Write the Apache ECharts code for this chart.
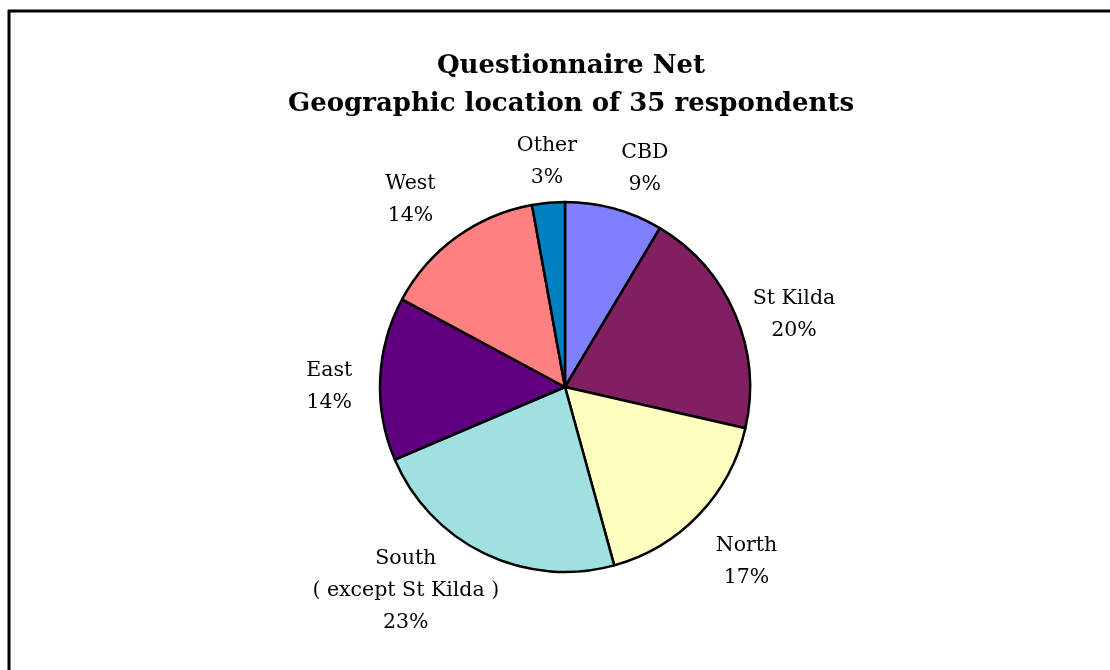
<!DOCTYPE html>
<html>
<head>
<meta charset="utf-8">
<title>Questionnaire Net</title>
<script src="https://cdn.jsdelivr.net/npm/echarts@6/dist/echarts.min.js"></script>
<style>
  html, body { margin: 0; padding: 0; background: #ffffff; }
  #chart { width: 1110px; height: 670px; }
</style>
</head>
<body>
<div id="chart"></div>
<script>
// Respondents by geographic location (counts out of 35)
const categories = ['CBD', 'St Kilda', 'North', 'South\n( except St Kilda )', 'East', 'West', 'Other'];
const counts = [3, 7, 6, 8, 5, 5, 1];
const colors = ['#8080FF', '#802060', '#FFFFC0', '#A0E0E0', '#600080', '#FF8080', '#0080C0'];

const titleLines = ['Questionnaire Net', 'Geographic location of 35 respondents'];

const total = counts.reduce((a, b) => a + b, 0);
const pieCenter = [565, 387];
const pieRadius = 185;
const labelGap = 18;
// hand-tuned label nudges (px), in slice order
const labelNudge = [[17, 9], [1, 25], [4, 5], [-48, -27], [-10, 10], [-12, 9], [3, 9]];

// mid angle of each slice, clockwise from 12 o'clock
const midAngles = [];
let acc = 0;
counts.forEach(v => {
  midAngles.push((acc + v / 2) / total * 2 * Math.PI);
  acc += v;
});

const chart = echarts.init(document.getElementById('chart'), null, { renderer: 'canvas' });

chart.setOption({
  backgroundColor: '#ffffff',
  animation: false,
  title: {
    text: titleLines.join('\n'),
    left: 566,
    textAlign: 'center',
    top: 42,
    textStyle: {
      fontFamily: 'DejaVu Serif',
      fontWeight: 'bold',
      fontSize: 26,
      lineHeight: 38,
      color: '#000000'
    }
  },
  graphic: [
    { type: 'line', shape: { x1: 8, y1: 11, x2: 1110, y2: 11 }, style: { stroke: '#000', lineWidth: 3 } },
    { type: 'line', shape: { x1: 9, y1: 10, x2: 9, y2: 670 }, style: { stroke: '#000', lineWidth: 3 } }
  ],
  series: [{
    type: 'pie',
    center: pieCenter,
    radius: pieRadius,
    startAngle: 90,
    clockwise: true,
    avoidLabelOverlap: false,
    data: categories.map((name, i) => ({
      name: name,
      value: counts[i],
      itemStyle: { color: colors[i] }
    })),
    itemStyle: { borderColor: '#000000', borderWidth: 2.5 },
    label: {
      show: true,
      position: 'outside',
      fontFamily: 'DejaVu Serif',
      fontSize: 20.5,
      lineHeight: 32,
      color: '#000000',
      align: 'center',
      formatter: p => p.name + '\n' + Math.round(p.value / total * 100) + '%'
    },
    labelLine: { show: false },
    // keep each label box just clear of the rim, along its slice's mid angle
    labelLayout: params => {
      const i = params.dataIndex;
      const a = midAngles[i];
      const sx = Math.sin(a), sy = -Math.cos(a);
      const w = params.labelRect.width, h = params.labelRect.height;
      const tx = Math.abs(sx) > 1e-6 ? (w / 2) / Math.abs(sx) : Infinity;
      const ty = Math.abs(sy) > 1e-6 ? (h / 2) / Math.abs(sy) : Infinity;
      const d = pieRadius + labelGap + Math.min(tx, ty);
      return {
        x: pieCenter[0] + sx * d + labelNudge[i][0],
        y: pieCenter[1] + sy * d + labelNudge[i][1],
        align: 'center',
        verticalAlign: 'middle'
      };
    },
    emphasis: { disabled: true }
  }]
});
</script>
</body>
</html>
